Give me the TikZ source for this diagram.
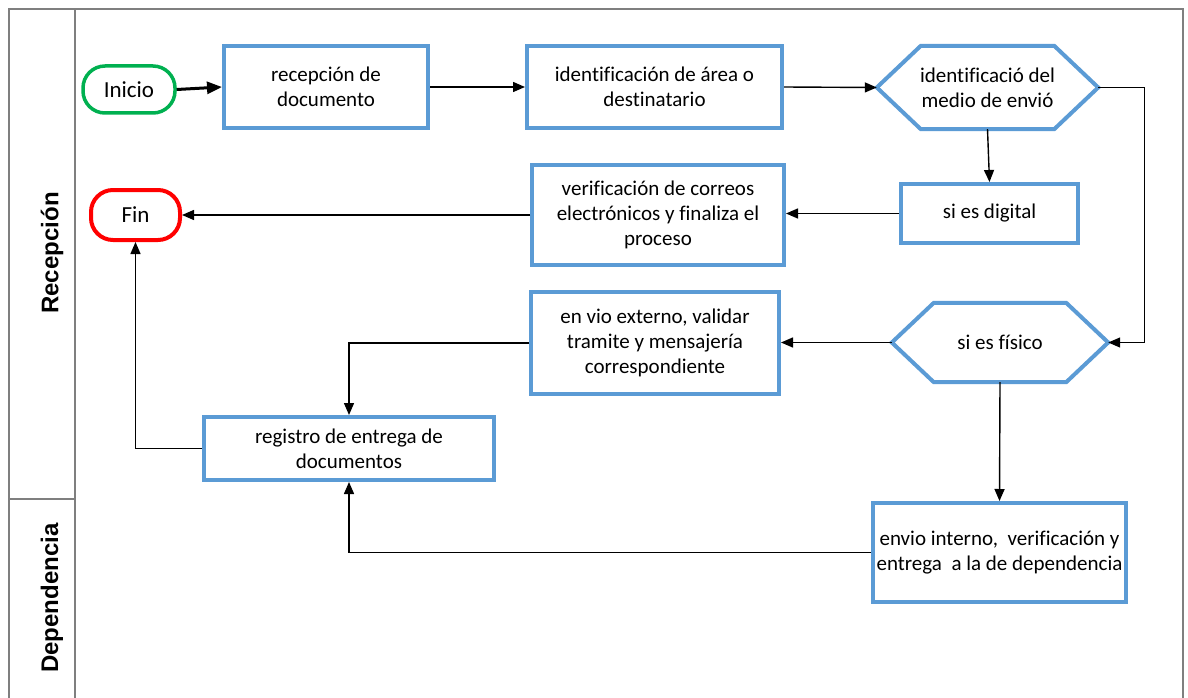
\documentclass[tikz,border=0pt]{standalone}
\usepackage{fontspec}
\setmainfont[Ligatures=NoCommon]{Carlito}
\newfontfamily\lanefont{Liberation Sans}
\usetikzlibrary{arrows.meta,calc}
\definecolor{boxblue}{HTML}{5B9BD5}
\definecolor{startgreen}{HTML}{00B050}
\definecolor{endred}{HTML}{FF0000}
\definecolor{framegray}{HTML}{7F7F7F}
\tikzset{
  procbox/.style={draw=boxblue, line width=4pt, fill=white, rectangle, align=center,
    inner sep=2pt, font=\fontsize{21}{25}\selectfont},
  hexhold/.style={rectangle, draw=none, align=center, inner sep=0pt,
    font=\fontsize{21}{25}\selectfont},
  hexline/.style={draw=boxblue, line width=4pt, line join=miter},
  terminal/.style={rectangle, rounded corners=22pt, align=center, inner sep=0pt,
    font=\fontsize{23}{27}\selectfont},
  conn/.style={draw=black, line width=1.4pt, -{Triangle[length=12pt,width=10pt]}},
  framel/.style={draw=framegray, line width=1.5pt},
  lanelabel/.style={rotate=90, font=\lanefont\bfseries\fontsize{24}{28}\selectfont}
}
\begin{document}
\begin{tikzpicture}[x=1pt,y=-1pt]
\useasboundingbox (0,0) rectangle (1188,698);
% frame
\draw[framel] (9,698) -- (9,9) -- (1183,9) -- (1183,698);
\draw[framel] (75,9) -- (75,698);
\draw[framel] (9,499) -- (75,499);
\node[lanelabel] (laneR) at (52,253) {Recepción};
\node[lanelabel] (laneD) at (52,598) {Dependencia};

% terminals
\node[terminal, draw=startgreen, line width=3.5pt, minimum width=92pt, minimum height=47pt] (ini) at (129,89.5) {Inicio};
\node[terminal, draw=endred, line width=4pt, minimum width=89pt, minimum height=50pt] (fin) at (135.5,215) {Fin};

% process boxes
\node[procbox, minimum width=204pt, minimum height=82pt] (recep) at (326,87) {recepción de\\documento};
\node[procbox, minimum width=255pt, minimum height=82pt] (ident) at (654.5,87) {identificación de área o\\destinatario};
\node[procbox, minimum width=177pt, minimum height=59pt] (dig) at (989.5,213.5) {si es digital};
\node[procbox, minimum width=252pt, minimum height=100pt] (verif) at (658,215) {verificación de correos\\electrónicos y finaliza el\\proceso};
\node[procbox, minimum width=248pt, minimum height=102pt] (extern) at (655,343) {en vio externo, validar\\tramite y mensajería\\correspondiente};
\node[procbox, minimum width=290pt, minimum height=63pt] (reg) at (349,448.5) {registro de entrega de\\documentos};
\node[procbox, minimum width=253pt, minimum height=99pt] (envint) at (999.5,552.5) {envio interno,\ \ verificación y\\entrega\ \ a la de dependencia};

% hexagons
\node[hexhold, minimum width=221pt, minimum height=83pt] (hexA) at (987.5,87.5) {identificació del\\medio de envió};
\draw[hexline] (hexA.west) -- ([xshift=44pt]hexA.north west) -- ([xshift=-44pt]hexA.north east)
  -- (hexA.east) -- ([xshift=-44pt]hexA.south east) -- ([xshift=44pt]hexA.south west) -- cycle;
\node[hexhold, minimum width=216pt, minimum height=79pt] (hexB) at (1000,342.5) {si es físico};
\draw[hexline] (hexB.west) -- ([xshift=42pt]hexB.north west) -- ([xshift=-42pt]hexB.north east)
  -- (hexB.east) -- ([xshift=-42pt]hexB.south east) -- ([xshift=42pt]hexB.south west) -- cycle;

% connectors
\draw[conn, line width=3pt, -{Triangle[length=15pt,width=12pt]}] (ini.east) -- (recep.west);
\draw[conn] (recep.east) -- (ident.west);
\draw[conn] (ident.east) -- (hexA.west);
\draw[conn] (hexA.south) -- (dig.north);
\draw[conn] (hexA.east) -- ++(46,0) |- (hexB.east);
\draw[conn] (dig.west) -- (verif.east |- dig.west);
\draw[conn] (verif.west) -- (fin.east);
\draw[conn] (hexB.west) -- (extern.east |- hexB.west);
\draw[conn] (extern.west) -| (reg.north);
\draw[conn] (reg.west) -| (fin.south);
\draw[conn] (hexB.south) -- (envint.north);
\draw[conn] (envint.west) -| (reg.south);
\end{tikzpicture}
\end{document}
